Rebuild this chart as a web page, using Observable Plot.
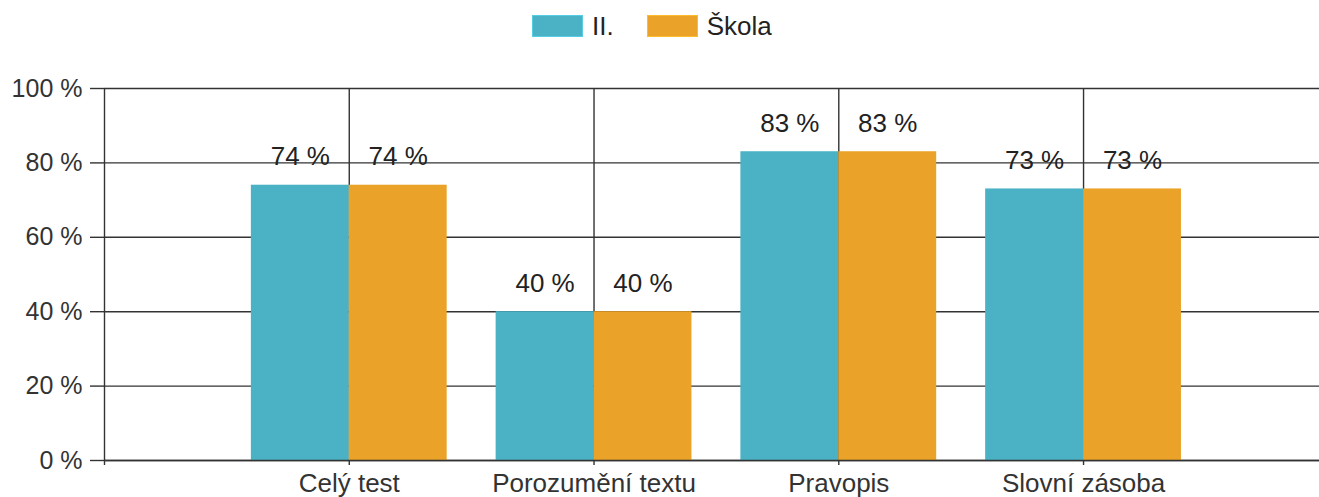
<!DOCTYPE html>
<html>
<head>
<meta charset="utf-8">
<script src="https://cdn.jsdelivr.net/npm/d3@7"></script>
<script src="https://cdn.jsdelivr.net/npm/@observablehq/plot@0.6"></script>
<style>
  html, body { margin: 0; padding: 0; background: #fff; }
  body { width: 1319px; height: 497px; overflow: hidden; font-family: "Liberation Sans", Arial, sans-serif; }
  #legend { height: 52px; display: flex; align-items: center; padding-left: 532px; box-sizing: border-box; font-size: 26px; color: #222; }
  .sw { width: 51px; height: 22px; margin-right: 9px; box-sizing: border-box; }
  .lab { margin-right: 33px; }
</style>
</head>
<body>
<div id="legend"></div>
<div id="chart"></div>
<script>
const categories = ["Celý test", "Porozumění textu", "Pravopis", "Slovní zásoba"];
const seriesNames = ["II.", "Škola"];
const valuesII = [74, 40, 83, 73];
const valuesSkola = [74, 40, 83, 73];
const colors = ["#4BB2C5", "#EAA228"];
const yTicks = [0, 20, 40, 60, 80, 100];
const xTicks = [-1, 0, 1, 2, 3];

const barHalf = 0.4;
const rows = [];
categories.forEach((c, i) => {
  rows.push({i, cat: c, series: seriesNames[0], value: valuesII[i], x1: i - barHalf, x2: i});
  rows.push({i, cat: c, series: seriesNames[1], value: valuesSkola[i], x1: i, x2: i + barHalf});
});

// legend
const legend = document.getElementById("legend");
seriesNames.forEach((s, k) => {
  const sw = document.createElement("div");
  sw.className = "sw";
  sw.style.background = colors[k];
  sw.style.border = "1px solid " + d3.color(colors[k]).brighter(0.4);
  const lab = document.createElement("span");
  lab.className = "lab";
  lab.textContent = s;
  legend.appendChild(sw);
  legend.appendChild(lab);
});

const lineColor = "#333";
const chart = Plot.plot({
  width: 1319,
  height: 445,
  marginLeft: 104,
  marginRight: 0,
  marginTop: 36,
  marginBottom: 37,
  style: {fontFamily: '"Liberation Sans", Arial, sans-serif', fontSize: "25px", color: "#333", background: "#fff"},
  x: {type: "linear", domain: [-1, 3.964], axis: null},
  y: {domain: [0, 100], axis: null},
  color: {domain: seriesNames, range: colors},
  marks: [
    Plot.gridY(yTicks, {stroke: lineColor, strokeOpacity: 1, strokeWidth: 1.4}),
    Plot.gridX(xTicks, {stroke: lineColor, strokeOpacity: 1, strokeWidth: 1.4}),
    Plot.rectY(rows, {x1: "x1", x2: "x2", y: "value", fill: "series"}),
    Plot.ruleY([0], {stroke: lineColor, strokeWidth: 1.4}),
    Plot.axisY(yTicks, {tickSize: 14, tickPadding: 8, tickFormat: d => d + " %", fontSize: 25, stroke: lineColor, strokeWidth: 1.4, label: null}),
    Plot.axisX(xTicks, {tickSize: 5, tickPadding: 8, tickFormat: i => categories[i] ?? "", fontSize: 26, stroke: lineColor, strokeWidth: 1.4, label: null}),
    Plot.text(rows, {x: d => (d.x1 + d.x2) / 2, y: "value", text: d => d.value + " %", fontSize: 26, fill: "#222", textAnchor: "middle", lineAnchor: "bottom", dy: -20})
  ]
});
document.getElementById("chart").appendChild(chart);
</script>
</body>
</html>
